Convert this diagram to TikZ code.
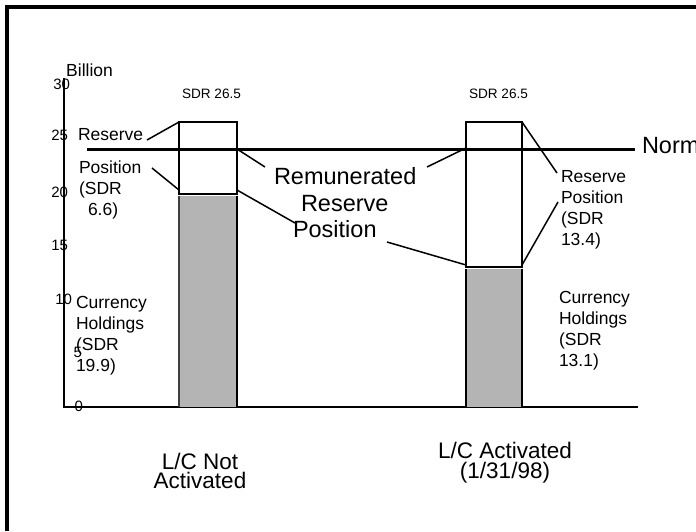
\documentclass[tikz,border=0pt]{standalone}
\usepackage{fontspec}
\setmainfont{Liberation Sans}
\definecolor{barGray}{HTML}{B4B4B4}
\definecolor{edgeGray}{HTML}{404040}
\begin{document}
\begin{tikzpicture}[x=1pt,y=-1pt,
  lbl/.style={inner sep=0pt,outer sep=0pt,align=left,font=\fontsize{17.5}{21}\selectfont},
  big/.style={inner sep=0pt,outer sep=0pt,font=\fontsize{23.5}{26.5}\selectfont},
  tick/.style={inner sep=0pt,outer sep=0pt,anchor=base east,font=\fontsize{15}{17}\selectfont},
  sdr/.style={inner sep=0pt,outer sep=0pt,anchor=base west,font=\fontsize{13.6}{16}\selectfont},
  leader/.style={line width=1.5pt},
  barline/.style={line width=2pt}]
\useasboundingbox (0,0) rectangle (696,531);
% frame
\draw[line width=4pt] (7,531) -- (7,7) -- (696,7);
% axes
\coordinate (ytop) at (64,78);
\coordinate (orig) at (64,407);
\coordinate (xend) at (638,407);
\draw[line width=1.5pt] (ytop) -- (orig) -- (xend);
\node[inner sep=0pt,anchor=base west,font=\fontsize{17.5}{20}\selectfont] (billion) at (66,76) {Billion};
\node[tick] (t30) at (70,89) {30};
\node[tick] (t25) at (68,140) {25};
\node[tick] (t20) at (68,197) {20};
\node[tick] (t15) at (68,250) {15};
\node[tick] (t10) at (72,304) {10};
\node[tick] (t5) at (82,357) {5};
\node[tick] (t0) at (83,411) {0};
% bars
\coordinate (lbTL) at (179,122);
\coordinate (lbTR) at (237,122);
\coordinate (lbDL) at (179,190);
\coordinate (lbDR) at (237,190);
\coordinate (lbNR) at (237,149);
\coordinate (rbTL) at (466,122);
\coordinate (rbTR) at (522,122);
\coordinate (rbNL) at (466,148);
\coordinate (rbDL) at (466,265);
\coordinate (rbDR) at (522,265);
\fill[barGray] (179,195.5) rectangle (237,407);
\draw[barline,edgeGray] (179,195.5) -- (179,407);
\draw[barline] (237,195.5) -- (237,407);
\draw[barline] (lbTL) rectangle (237,194);
\fill[barGray] (466,268.5) rectangle (522,407);
\draw[barline] (466,268.5) -- (466,407);
\draw[barline] (522,268.5) -- (522,407);
\draw[barline] (rbTL) rectangle (522,267);
% norm line
\coordinate (nstart) at (87,149);
\node[big,anchor=base west] (norm) at (642,153) {Norm};
\draw[line width=3pt] (nstart) -- (635,149);
% SDR labels
\node[sdr] (sdrL) at (182,98) {SDR 26.5};
\node[sdr] (sdrR) at (469,98) {SDR 26.5};
% remunerated
\node[big,align=left,anchor=north west] (rem) at (274,167.5) {Remunerated\\\hspace*{27pt}Reserve\\\hspace*{19pt}Position};
\coordinate (remA) at (265,167);
\coordinate (remB) at (295,223);
\coordinate (remC) at (427,167);
\coordinate (remD) at (387,242);
\draw[leader] (lbNR) -- (remA);
\draw[leader] (lbDR) -- (remB);
\draw[leader] (rbNL) -- (remC);
\draw[leader] (rbDL) -- (remD);
% left labels
\node[lbl,anchor=base west] (resL) at (78,140) {Reserve};
\node[lbl,anchor=north west] (posL) at (79,160.5) {Position\\(SDR\\\hspace*{9pt}6.6)};
\coordinate (resLe) at (147,140);
\coordinate (posLe) at (152,168);
\draw[leader] (resLe) -- (lbTL);
\draw[leader] (posLe) -- (lbDL);
\node[lbl,anchor=north west] (curL) at (76,296.5) {Currency\\Holdings\\(SDR\\19.9)};
% right labels
\node[lbl,anchor=north west] (resR) at (561,170.5) {Reserve\\Position\\(SDR\\13.4)};
\coordinate (resRa) at (557,173);
\coordinate (resRb) at (558,202);
\draw[leader] (rbTR) -- (resRa);
\draw[leader] (rbDR) -- (resRb);
\node[lbl,anchor=north west] (curR) at (559,291.5) {Currency\\Holdings\\(SDR\\13.1)};
% bottom labels
\node[inner sep=0pt,align=center,anchor=north,font=\fontsize{22.5}{19.5}\selectfont] (catL) at (200,452.5) {L/C Not\\Activated};
\node[inner sep=0pt,align=center,anchor=north,font=\fontsize{22.5}{20}\selectfont] (catR) at (505,441.5) {L/C Activated\\(1/31/98)};
\end{tikzpicture}
\end{document}
